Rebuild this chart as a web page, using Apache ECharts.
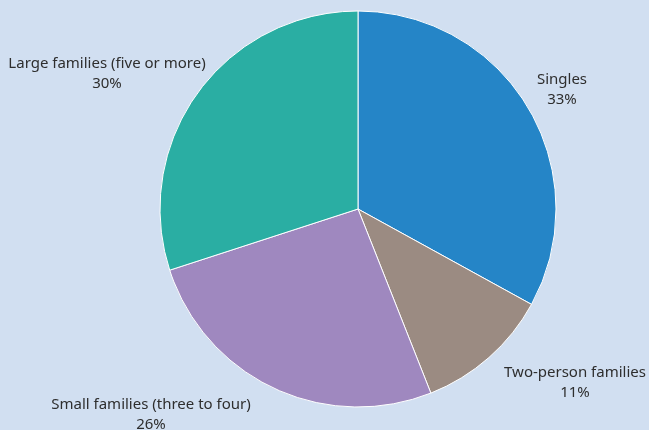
<!DOCTYPE html>
<html>
<head>
<meta charset="utf-8">
<script src="https://cdn.jsdelivr.net/npm/echarts@6/dist/echarts.min.js"></script>
<style>
  html, body { margin: 0; padding: 0; background: #d1dff1; }
  #chart { width: 649px; height: 430px; }
</style>
</head>
<body>
<div id="chart"></div>
<script>
// Household composition shares
const categories = ['Singles', 'Two-person families', 'Small families (three to four)', 'Large families (five or more)'];
const shares = [33, 11, 26, 30];
const sliceColors = ['#2585c7', '#9b8b82', '#9f88bf', '#2aaea3'];

// label anchor points (centre of each two-line label)
const labelAnchors = [[562, 90], [575, 383], [151, 415], [107, 74]];

const chart = echarts.init(document.getElementById('chart'), null, { renderer: 'canvas' });
chart.setOption({
  backgroundColor: '#d1dff1',
  animation: false,
  series: [{
    type: 'pie',
    center: [358, 209],
    radius: [0, 198],
    startAngle: 90,
    clockwise: true,
    data: categories.map((name, i) => ({ name, value: shares[i], itemStyle: { color: sliceColors[i] } })),
    itemStyle: { borderColor: '#ffffff', borderWidth: 1 },
    label: {
      show: true,
      position: 'outside',
      formatter: p => p.name + '\n' + p.value + '%',
      fontFamily: 'Noto Sans',
      fontSize: 15,
      lineHeight: 20,
      color: '#2e2e2e',
      align: 'center',
      overflow: 'none',
      width: 400
    },
    labelLine: { show: false },
    labelLayout: params => ({
      x: labelAnchors[params.dataIndex][0],
      y: labelAnchors[params.dataIndex][1],
      align: 'center',
      verticalAlign: 'middle'
    }),
    emphasis: { disabled: true }
  }]
});
</script>
</body>
</html>
